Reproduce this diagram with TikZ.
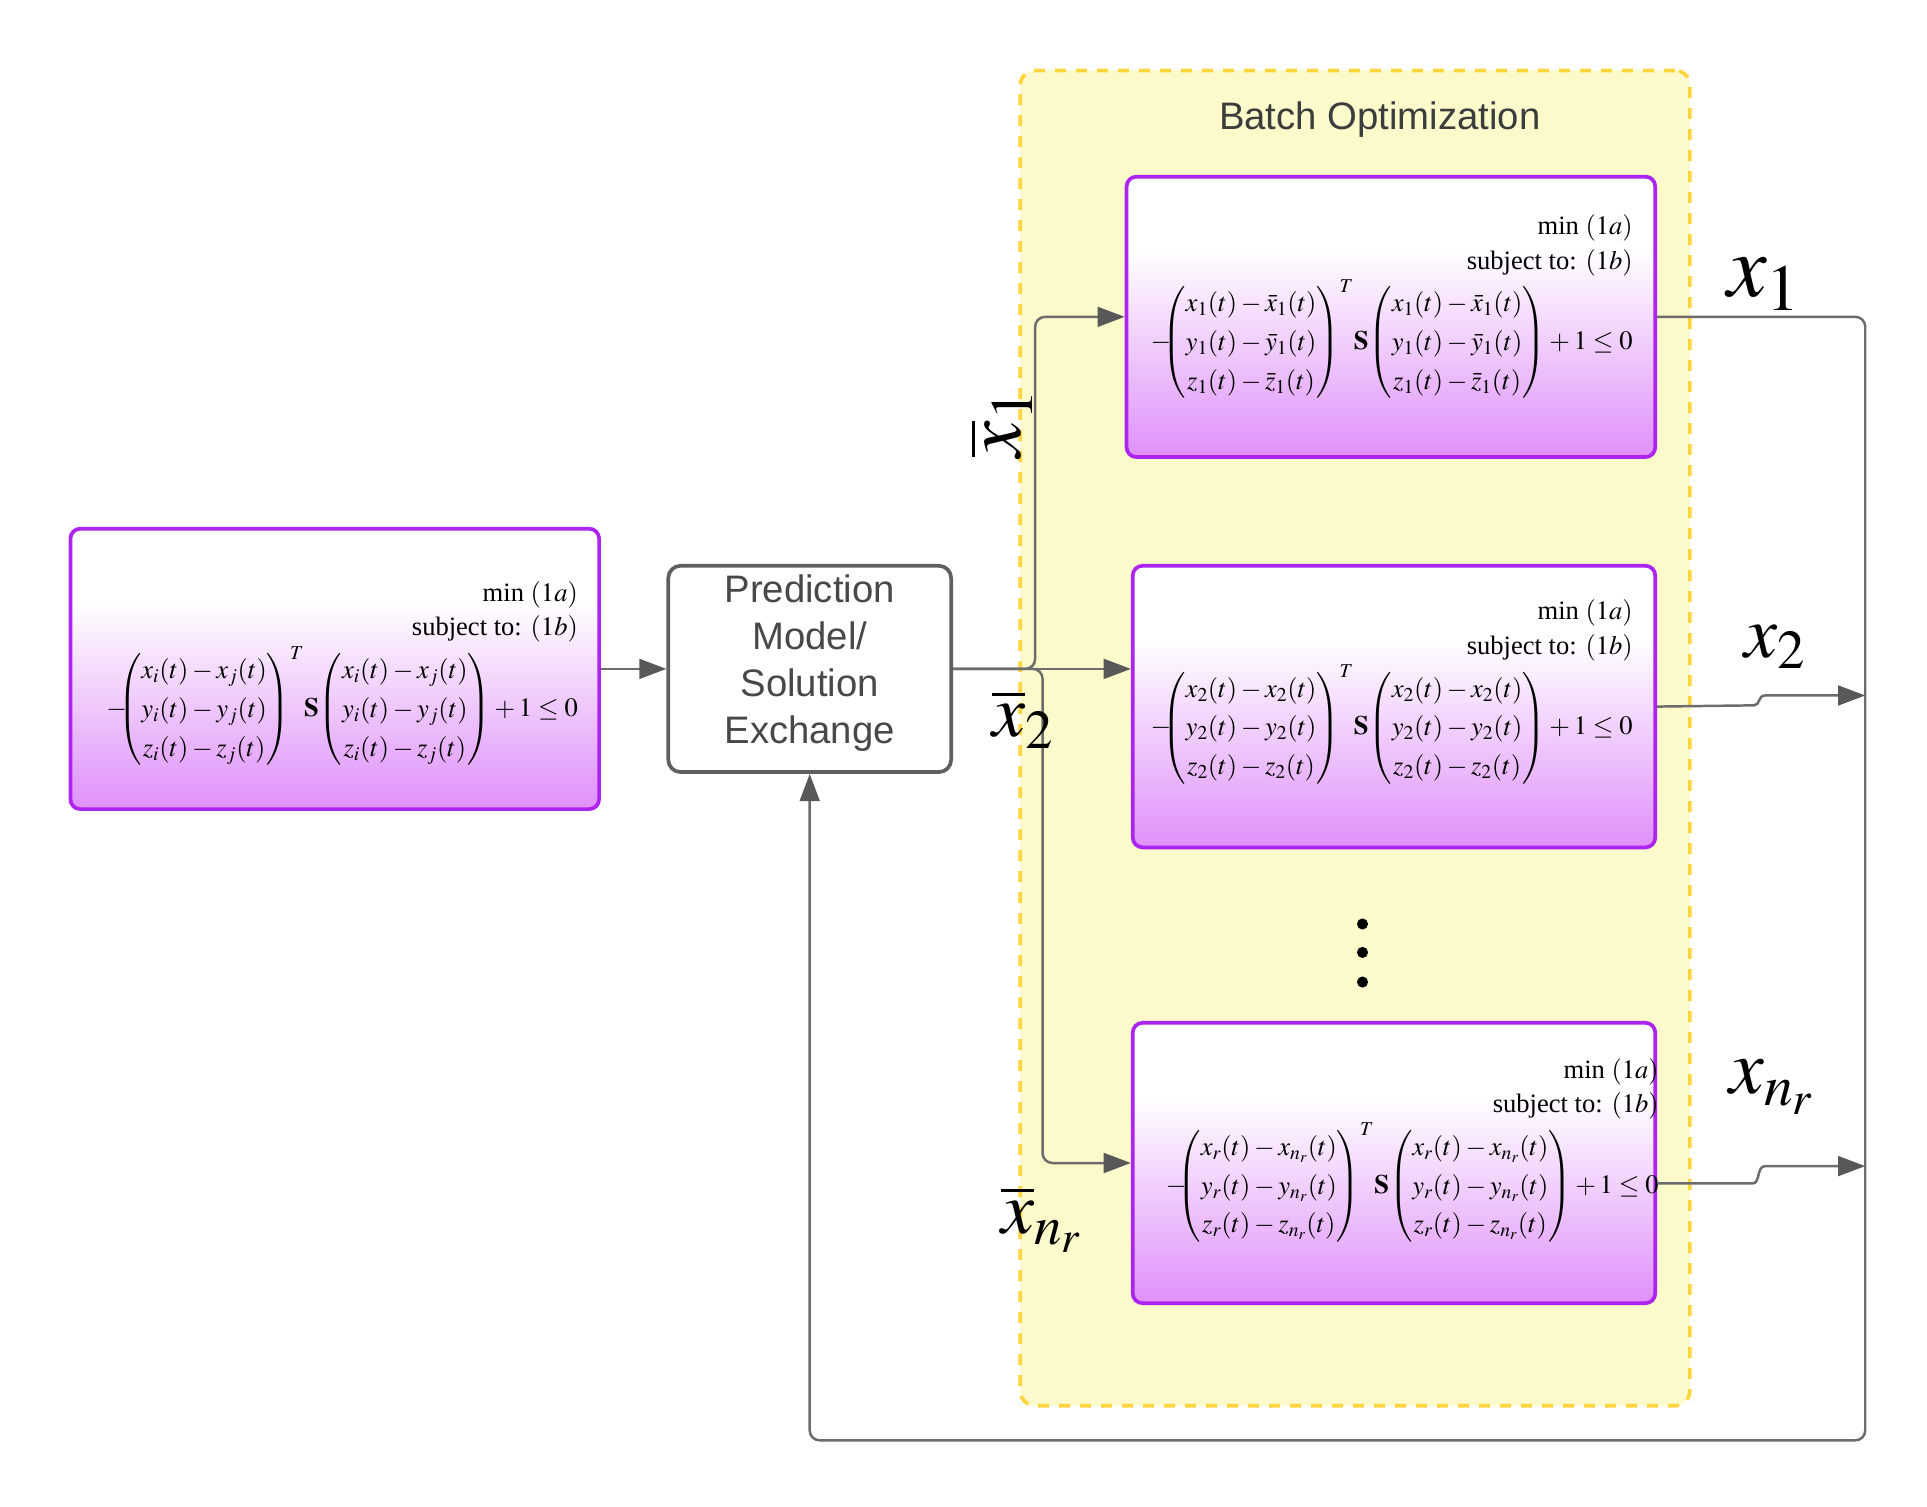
\documentclass[tikz,border=0pt]{standalone}
\usepackage{amsmath}
\usepackage{mathptmx}
\usepackage{fontspec}
\setmainfont{Liberation Serif}
\setsansfont{Liberation Sans}
\usetikzlibrary{arrows.meta,calc}
\definecolor{optpurp}{RGB}{172,36,240}
\definecolor{optfill}{RGB}{224,144,250}
\definecolor{optmid}{RGB}{240,205,252}
\definecolor{batchfill}{RGB}{252,250,202}
\definecolor{batchdash}{RGB}{255,212,60}
\definecolor{lineg}{RGB}{108,108,108}
\definecolor{arrowg}{RGB}{88,88,88}
\definecolor{predg}{RGB}{95,95,95}
\definecolor{predtext}{RGB}{72,72,72}
\definecolor{titletext}{RGB}{60,60,60}
\pgfdeclareverticalshading{optshade}{100bp}{color(0bp)=(optfill); color(25bp)=(optfill); color(45bp)=(optmid); color(62bp)=(white); color(100bp)=(white)}
\newcommand{\optcontent}[3]{\begin{tabular}{@{}r@{}}min $(1a)$\\ subject to: $(1b)$\\ $\def\arraystretch{1.12}-\mskip-8mu\begin{pmatrix}#1\\#2\\#3\end{pmatrix}^{T}\!\mathbf{S}\!\begin{pmatrix}#1\\#2\\#3\end{pmatrix}+1\leq 0$\end{tabular}}
\tikzset{
  optbox/.style={rectangle, rounded corners=8pt, draw=optpurp, line width=3pt, shading=optshade, inner sep=0pt},
  opttext/.style={inner sep=0pt, font=\fontsize{21.5}{28}\selectfont, anchor=north east},
  predbox/.style={rectangle, rounded corners=10pt, draw=predg, line width=3pt, fill=white},
  predtxt/.style={align=center, text=predtext, inner sep=0pt, font=\sffamily\fontsize{31}{38}\selectfont},
  batchbox/.style={rectangle, rounded corners=12pt, draw=batchdash, fill=batchfill, line width=3pt, dash pattern=on 9pt off 8pt},
  conn/.style={draw=lineg, line width=2pt, rounded corners=8pt, -{Triangle[length=22pt,width=16pt,color=arrowg]}},
  biglab/.style={inner sep=0pt, font=\fontsize{60}{60}\selectfont},
}
\begin{document}
\begin{tikzpicture}[x=1pt,y=-1pt]
\useasboundingbox (0,0) rectangle (1560,1219.2);
% batch region
\node[batchbox, minimum width=542pt, minimum height=1081pt] (BO) at (1097,597.5) {};
\node[font=\sffamily\fontsize{31}{36}\selectfont, text=titletext] (BT) at (1117,97) {Batch Optimization};
% boxes
\node[optbox, minimum width=428pt, minimum height=227pt] (L) at (271,541.5) {};
\node[optbox, minimum width=428pt, minimum height=227pt] (B1) at (1126,256.5) {};
\node[optbox, minimum width=423pt, minimum height=228pt] (B2) at (1128.5,572) {};
\node[optbox, minimum width=423pt, minimum height=227pt] (B3) at (1128.5,941.5) {};
\node[predbox, minimum width=229pt, minimum height=167pt] (P) at (655.5,541.5) {};
\node[predtxt] (Pt) at (655.5,537) {Prediction\\Model/\\Solution\\Exchange};
% texts
\node[opttext] (Lt) at (468,467) {\optcontent{x_i(t)-x_j(t)}{y_i(t)-y_j(t)}{z_i(t)-z_j(t)}};
\node[opttext] (B1t) at (1322,170) {\optcontent{x_1(t)-\bar{x}_1(t)}{y_1(t)-\bar{y}_1(t)}{z_1(t)-\bar{z}_1(t)}};
\node[opttext] (B2t) at (1322,482) {\optcontent{x_2(t)-x_2(t)}{y_2(t)-y_2(t)}{z_2(t)-z_2(t)}};
\node[opttext] (B3t) at (1343,853) {\optcontent{x_r(t)-x_{n_r}(t)}{y_r(t)-y_{n_r}(t)}{z_r(t)-z_{n_r}(t)}};
% dots
\fill[black] (1103,748) circle (4.5pt);
\fill[black] (1103,771) circle (4.5pt);
\fill[black] (1103,795) circle (4.5pt);
% helper coordinates
\coordinate (ju) at (838,541.5);
\coordinate (jd) at (844,541.5);
\coordinate (rc) at (1510,1166);
\coordinate (o2) at (1510,563);
\coordinate (o3) at (1510,944);
% connectors
\draw[conn] (L.east) -- (P.west);
\draw[conn] (P.east) -- (B2.west |- P.east);
\draw[conn] (P.east) -- (ju) |- (B1.west);
\draw[conn] (P.east) -- (jd) |- (B3.west);
\draw[conn] (B1.east) -| (rc) -| (P.south);
\draw[conn, rounded corners=0pt] (B2.east) -- (1420,571) .. controls (1425,571) and (1423,563) .. (1429,563) -- (o2);
\draw[conn, rounded corners=0pt] ($(B3.east)+(0,16.5)$) -- (1419,958) .. controls (1425,958) and (1422,944) .. (1429,944) -- (o3);
% labels
\node[biglab, font=\fontsize{72}{72}\selectfont] (lx1) at (1428,230) {$x_1$};
\node[biglab] (lx2) at (1437,524) {$x_2$};
\node[biglab, font=\fontsize{63}{63}\selectfont] (lxn) at (1434,880) {$x_{n_r}$};
\node[biglab, rotate=90, font=\fontsize{66}{66}\selectfont] (lb1) at (810,343) {$\overline{x}_1$};
\node[biglab] (lb2) at (828,582) {$\overline{x}_2$};
\node[biglab] (lbn) at (843,987) {$\overline{x}_{n_r}$};
\end{tikzpicture}
\end{document}
